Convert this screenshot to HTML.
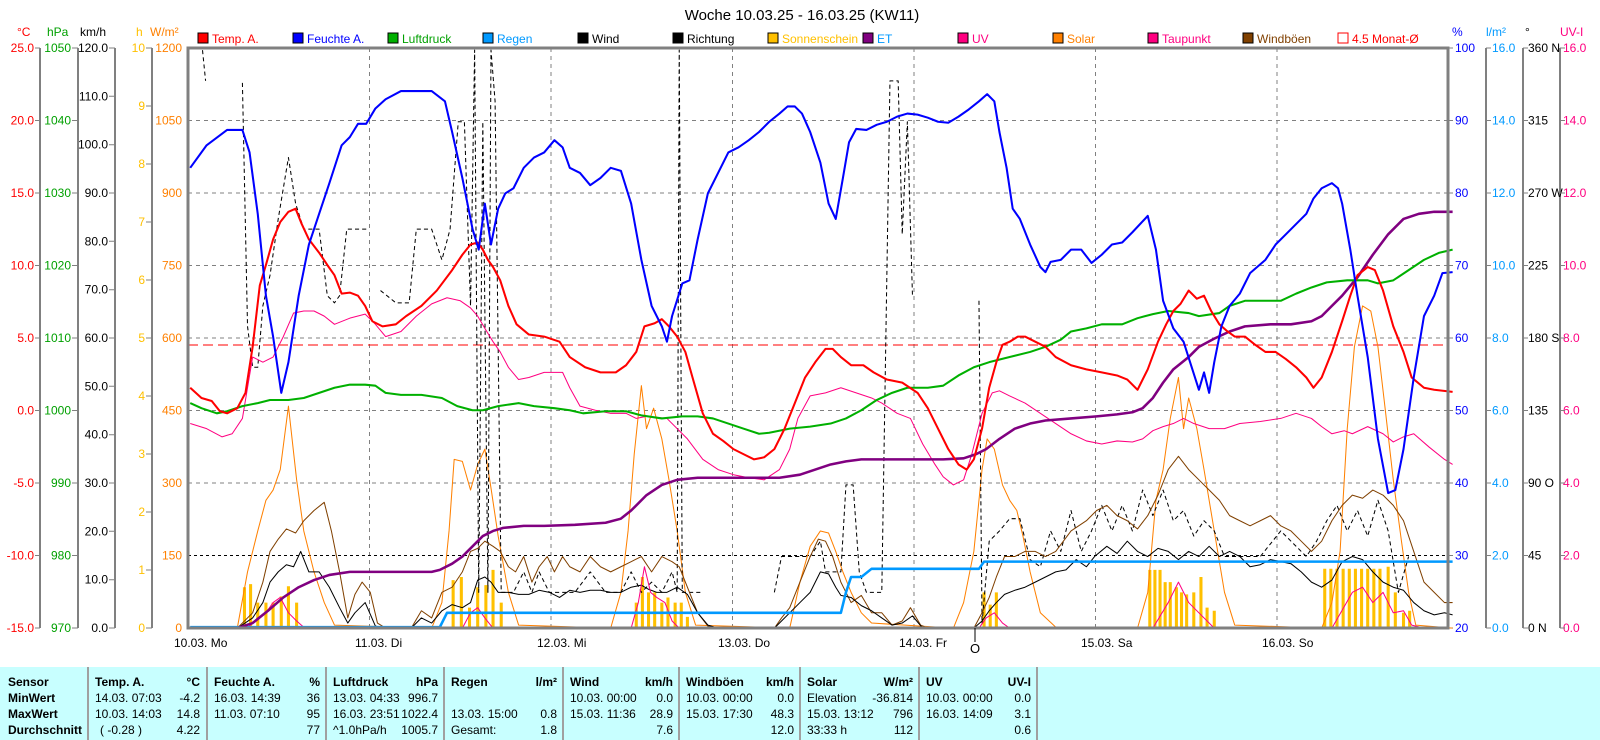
<!DOCTYPE html>
<html><head><meta charset="utf-8"><style>
html,body{margin:0;padding:0;background:#fff;}
svg{display:block;font-family:"Liberation Sans",sans-serif;}
</style></head><body>
<svg width="1600" height="740" viewBox="0 0 1600 740" xmlns="http://www.w3.org/2000/svg">
<rect width="1600" height="740" fill="#fff"/>
<text x="802" y="20" font-size="15" text-anchor="middle" fill="#000">Woche 10.03.25 - 16.03.25 (KW11)</text>
<g font-size="12">
<rect x="198" y="33" width="10" height="10" fill="#f00" stroke="#000"/><text x="212" y="43" fill="#f00">Temp. A.</text>
<rect x="293" y="33" width="10" height="10" fill="#00f" stroke="#000"/><text x="307" y="43" fill="#00f">Feuchte A.</text>
<rect x="388" y="33" width="10" height="10" fill="#00b000" stroke="#000"/><text x="402" y="43" fill="#00a000">Luftdruck</text>
<rect x="483" y="33" width="10" height="10" fill="#09f" stroke="#000"/><text x="497" y="43" fill="#09f">Regen</text>
<rect x="578" y="33" width="10" height="10" fill="#000" stroke="#000"/><text x="592" y="43" fill="#000">Wind</text>
<rect x="673" y="33" width="10" height="10" fill="#000" stroke="#000"/><text x="687" y="43" fill="#000">Richtung</text>
<rect x="768" y="33" width="10" height="10" fill="#ffc000" stroke="#000"/><text x="782" y="43" fill="#ffc000">Sonnenschein</text>
<rect x="863" y="33" width="10" height="10" fill="#800080" stroke="#000"/><text x="877" y="43" fill="#09f">ET</text>
<rect x="958" y="33" width="10" height="10" fill="#ff0080" stroke="#000"/><text x="972" y="43" fill="#ff0080">UV</text>
<rect x="1053" y="33" width="10" height="10" fill="#ff8000" stroke="#000"/><text x="1067" y="43" fill="#ff8000">Solar</text>
<rect x="1148" y="33" width="10" height="10" fill="#ff0080" stroke="#000"/><text x="1162" y="43" fill="#ff0080">Taupunkt</text>
<rect x="1243" y="33" width="10" height="10" fill="#804000" stroke="#000"/><text x="1257" y="43" fill="#804000">Windböen</text>
<rect x="1338" y="33" width="10" height="10" fill="#fff" stroke="#f00"/><text x="1352" y="43" fill="#f00">4.5 Monat-Ø</text>
</g>
<g font-size="12">
<text x="17" y="36" fill="#f00">°C</text>
<text x="47" y="36" fill="#00a000">hPa</text>
<text x="80" y="36" fill="#000">km/h</text>
<text x="136" y="36" fill="#ffc000">h</text>
<text x="150" y="36" fill="#ff8000">W/m²</text>
<text x="1452" y="36" fill="#00f">%</text>
<text x="1486" y="36" fill="#09f">l/m²</text>
<text x="1525" y="36" fill="#000">°</text>
<text x="1560" y="36" fill="#ff0080">UV-I</text>
</g>
<g stroke="#808080" stroke-width="1" stroke-dasharray="4,4">
<line x1="188" y1="120.5" x2="1448" y2="120.5"/><line x1="188" y1="193" x2="1448" y2="193"/>
<line x1="188" y1="265.5" x2="1448" y2="265.5"/><line x1="188" y1="338" x2="1448" y2="338"/>
<line x1="188" y1="410.5" x2="1448" y2="410.5"/><line x1="188" y1="483" x2="1448" y2="483"/>
<line x1="369.5" y1="48" x2="369.5" y2="628"/><line x1="551" y1="48" x2="551" y2="628"/>
<line x1="732.5" y1="48" x2="732.5" y2="628"/><line x1="914" y1="48" x2="914" y2="628"/>
<line x1="1095.5" y1="48" x2="1095.5" y2="628"/><line x1="1277" y1="48" x2="1277" y2="628"/>
</g>
<line x1="188" y1="555.5" x2="1448" y2="555.5" stroke="#000" stroke-dasharray="3,3"/>
<line x1="188" y1="345" x2="1448" y2="345" stroke="#f00" stroke-dasharray="10,5"/>
<g stroke="#808080" stroke-width="2">
<line x1="40" y1="48" x2="40" y2="628"/><line x1="78" y1="48" x2="78" y2="628"/>
<line x1="115" y1="48" x2="115" y2="628"/><line x1="152" y1="48" x2="152" y2="628"/>
<line x1="1486" y1="48" x2="1486" y2="628"/><line x1="1523" y1="48" x2="1523" y2="628"/><line x1="1560" y1="48" x2="1560" y2="628"/>
</g>
<g font-size="12" text-anchor="end">
<g fill="#f00"><text x="34" y="52">25.0</text><text x="34" y="124.5">20.0</text><text x="34" y="197">15.0</text><text x="34" y="269.5">10.0</text><text x="34" y="342">5.0</text><text x="34" y="414.5">0.0</text><text x="34" y="487">-5.0</text><text x="34" y="559.5">-10.0</text><text x="34" y="632">-15.0</text></g>
<g fill="#00a000"><text x="71" y="52">1050</text><text x="71" y="124.5">1040</text><text x="71" y="197">1030</text><text x="71" y="269.5">1020</text><text x="71" y="342">1010</text><text x="71" y="414.5">1000</text><text x="71" y="487">990</text><text x="71" y="559.5">980</text><text x="71" y="632">970</text></g>
<g fill="#000"><text x="108" y="52">120.0</text><text x="108" y="100.3">110.0</text><text x="108" y="148.7">100.0</text><text x="108" y="197">90.0</text><text x="108" y="245.3">80.0</text><text x="108" y="293.7">70.0</text><text x="108" y="342">60.0</text><text x="108" y="390.3">50.0</text><text x="108" y="438.7">40.0</text><text x="108" y="487">30.0</text><text x="108" y="535.3">20.0</text><text x="108" y="583.7">10.0</text><text x="108" y="632">0.0</text></g>
<g fill="#ffc000"><text x="145" y="52">10</text><text x="145" y="110">9</text><text x="145" y="168">8</text><text x="145" y="226">7</text><text x="145" y="284">6</text><text x="145" y="342">5</text><text x="145" y="400">4</text><text x="145" y="458">3</text><text x="145" y="516">2</text><text x="145" y="574">1</text><text x="145" y="632">0</text></g>
<g fill="#ff8000"><text x="182" y="52">1200</text><text x="182" y="124.5">1050</text><text x="182" y="197">900</text><text x="182" y="269.5">750</text><text x="182" y="342">600</text><text x="182" y="414.5">450</text><text x="182" y="487">300</text><text x="182" y="559.5">150</text><text x="182" y="632">0</text></g>
</g>
<g font-size="12">
<g fill="#00f"><text x="1455" y="52">100</text><text x="1455" y="124.5">90</text><text x="1455" y="197">80</text><text x="1455" y="269.5">70</text><text x="1455" y="342">60</text><text x="1455" y="414.5">50</text><text x="1455" y="487">40</text><text x="1455" y="559.5">30</text><text x="1455" y="632">20</text></g>
<g fill="#09f"><text x="1492" y="52">16.0</text><text x="1492" y="124.5">14.0</text><text x="1492" y="197">12.0</text><text x="1492" y="269.5">10.0</text><text x="1492" y="342">8.0</text><text x="1492" y="414.5">6.0</text><text x="1492" y="487">4.0</text><text x="1492" y="559.5">2.0</text><text x="1492" y="632">0.0</text></g>
<g fill="#000"><text x="1528" y="52">360 N</text><text x="1528" y="124.5">315</text><text x="1528" y="197">270 W</text><text x="1528" y="269.5">225</text><text x="1528" y="342">180 S</text><text x="1528" y="414.5">135</text><text x="1528" y="487">90  O</text><text x="1528" y="559.5">45</text><text x="1528" y="632">0   N</text></g>
<g fill="#ff0080"><text x="1563" y="52">16.0</text><text x="1563" y="124.5">14.0</text><text x="1563" y="197">12.0</text><text x="1563" y="269.5">10.0</text><text x="1563" y="342">8.0</text><text x="1563" y="414.5">6.0</text><text x="1563" y="487">4.0</text><text x="1563" y="559.5">2.0</text><text x="1563" y="632">0.0</text></g>
</g>
<g stroke="#808080" stroke-width="1">
<path d="M35 48H40M35 120.5H40M35 193H40M35 265.5H40M35 338H40M35 410.5H40M35 483H40M35 555.5H40M35 628H40"/>
<path d="M72 48H78M72 120.5H78M72 193H78M72 265.5H78M72 338H78M72 410.5H78M72 483H78M72 555.5H78M72 628H78"/>
<path d="M109 48H115M109 96.3H115M109 144.7H115M109 193H115M109 241.3H115M109 289.7H115M109 338H115M109 386.3H115M109 434.7H115M109 483H115M109 531.3H115M109 579.7H115M109 628H115"/>
<path d="M146 48H152M146 106H152M146 164H152M146 222H152M146 280H152M146 338H152M146 396H152M146 454H152M146 512H152M146 570H152M146 628H152"/>
<path d="M1448 48H1453M1448 120.5H1453M1448 193H1453M1448 265.5H1453M1448 338H1453M1448 410.5H1453M1448 483H1453M1448 555.5H1453M1448 628H1453"/>
<path d="M1486 48H1491M1486 120.5H1491M1486 193H1491M1486 265.5H1491M1486 338H1491M1486 410.5H1491M1486 483H1491M1486 555.5H1491M1486 628H1491"/>
<path d="M1523 48H1528M1523 120.5H1528M1523 193H1528M1523 265.5H1528M1523 338H1528M1523 410.5H1528M1523 483H1528M1523 555.5H1528M1523 628H1528"/>
<path d="M1560 48H1565M1560 120.5H1565M1560 193H1565M1560 265.5H1565M1560 338H1565M1560 410.5H1565M1560 483H1565M1560 555.5H1565M1560 628H1565"/>
</g>
<g transform="translate(2,-1) scale(1.023)" fill="none" stroke-linejoin="round">
<g stroke="#ffc000" stroke-width="3">
<path d="M237 615V575M243 615V572M250 615V590M258 615V590M265 615V590M273 615V584M280 615V574M288 615V590M441 615V568M449 615V565M457 615V595M465 615V575M473 615V573M480 615V558M488 615V590M620 615V590M626 615V565M632 615V580M638 615V580M645 615V590M651 615V585M658 615V590M664 615V590M670 615V604M960 615V580M966 615V592M972 615V580M1122 615V558M1127 615V558M1132 615V558M1137 615V570M1142 615V570M1148 615V575M1153 615V580M1158 615V582M1165 615V580M1172 615V565M1178 615V595M1185 615V598M1293 615V557M1299 615V557M1305 615V557M1311 615V557M1317 615V557M1323 615V557M1329 615V557M1335 615V557M1341 615V557M1347 615V557M1355 615V555M1362 615V580M1370 615V600M1376 615V598"/>
</g>
<polyline stroke="#ff8000" stroke-width="1" points="184,615 230,615 240,560 250,520 258,490 265,480 272,460 280,398 288,470 295,520 305,560 315,590 325,612 420,615 430,590 437,520 442,450 450,452 458,480 465,455 472,440 478,478 485,525 495,580 505,612 595,615 605,580 612,520 618,445 625,378 630,420 637,400 645,430 652,470 660,520 668,580 678,612 770,615 780,570 790,535 800,520 808,522 815,540 822,560 830,580 840,600 850,610 930,615 940,590 950,540 958,460 963,430 970,440 978,475 985,490 992,500 998,525 1005,560 1015,600 1030,614 1110,615 1120,580 1128,490 1135,460 1142,410 1150,370 1155,420 1160,390 1168,420 1175,460 1185,520 1195,580 1205,612 1290,615 1300,590 1308,540 1315,420 1322,340 1330,300 1338,305 1345,340 1352,400 1360,470 1368,530 1375,580 1382,612 1418,615"/>
<g stroke="#000" stroke-width="1" stroke-dasharray="4,3">
<polyline points="196,50 199,80"/>
<polyline points="235,82 240,320 245,360 250,360 255,300 262,270 270,215 280,155 287,200 295,225 302,225 310,225 318,290 325,297 330,290 337,225 345,225 352,225 358,225"/>
<polyline points="370,285 385,297 398,297 405,225 412,225 420,225 430,255 438,225 446,120 452,120 458,300 462,50 466,580 470,120 475,580 478,50 482,100 488,580 492,580 500,580 510,560 518,580 525,560 535,580 545,580 560,580 575,560 590,580 605,580 615,560 625,580 635,570 645,580 655,560 660,580 662,50 665,580 685,580"/>
<polyline points="755,580 762,545 790,545 800,530 805,560 820,560 825,475 832,475 838,560 845,580 860,580 868,80 876,80 880,230 885,120 890,290"/>
<polyline points="955,295 958,610 965,530 975,520 985,508 995,508 1005,548 1015,555 1025,520 1035,540 1045,500 1055,540 1065,520 1075,495 1085,520 1095,495 1105,520 1115,480 1125,505 1135,480 1145,510 1155,500 1165,525 1175,510 1185,520 1195,545 1205,545 1215,545 1230,545 1250,520 1260,530 1275,545 1285,530 1295,510 1305,495 1315,520 1325,500 1335,525 1345,490 1355,520 1365,580 1375,545"/>
</g>
<polyline stroke="#804000" stroke-width="1" points="184,615 230,615 245,600 255,570 262,540 270,528 278,518 287,522 295,510 305,500 315,492 322,520 330,560 338,605 345,582 352,570 360,580 367,610 375,615 400,615 410,598 420,605 430,580 440,575 450,560 458,540 465,537 472,530 480,535 487,540 495,555 502,560 510,545 518,570 525,555 533,545 540,560 548,545 555,555 565,560 575,545 585,555 595,560 605,555 615,550 625,545 635,560 645,545 655,550 662,555 670,575 680,600 690,613 700,615 755,615 762,605 770,595 780,570 790,545 798,528 805,530 812,545 820,570 830,590 840,583 850,600 860,600 870,612 880,608 888,595 898,612 905,615 950,615 958,600 965,585 972,565 980,545 990,545 1000,540 1010,540 1020,545 1030,540 1045,520 1060,510 1070,500 1080,495 1090,505 1100,510 1110,518 1120,505 1130,485 1140,460 1150,447 1160,460 1170,470 1180,480 1190,490 1200,505 1210,510 1220,515 1230,510 1240,505 1250,515 1260,520 1270,530 1280,540 1290,530 1300,510 1310,495 1320,485 1330,488 1340,480 1350,485 1360,495 1370,510 1380,540 1390,570 1400,580 1410,590 1418,590"/>
<polyline stroke="#000" stroke-width="1" points="184,615 230,615 245,605 255,590 262,570 270,560 278,553 285,555 292,540 300,560 310,560 320,575 330,595 338,610 345,600 355,590 365,613 375,615 400,615 410,605 420,610 430,598 440,592 450,595 458,590 465,568 472,565 478,570 485,580 495,580 505,582 515,582 525,578 535,580 545,585 555,578 565,580 575,578 585,578 595,580 605,580 615,575 625,573 632,577 640,580 650,580 660,575 670,582 680,600 690,612 700,615 755,615 762,608 770,600 780,590 790,580 800,560 808,562 815,575 820,583 830,585 840,593 850,598 860,605 870,612 880,610 890,603 900,615 950,615 958,608 965,598 972,590 980,582 990,578 1000,575 1010,570 1020,565 1030,560 1040,558 1050,548 1060,555 1068,545 1080,535 1090,542 1100,530 1110,540 1120,545 1130,537 1140,540 1150,548 1160,540 1170,545 1180,535 1190,545 1200,540 1210,545 1220,555 1230,553 1240,548 1250,550 1260,552 1270,560 1280,570 1290,575 1300,568 1310,550 1320,545 1330,548 1340,560 1350,570 1360,575 1370,578 1380,590 1390,598 1400,602 1410,600 1418,602"/>
<polyline stroke="#ff0080" stroke-width="1" points="184,415 200,420 215,428 225,425 235,410 240,380 245,350 255,355 265,350 275,330 285,307 295,305 305,305 315,310 325,318 340,312 355,308 365,318 375,330 390,325 405,310 420,298 435,292 448,295 458,302 465,310 472,322 480,335 487,345 495,360 505,372 515,370 530,365 548,365 555,380 565,398 580,402 595,405 610,405 620,410 630,408 650,410 670,430 685,450 700,460 715,465 730,468 745,470 760,460 770,440 778,410 790,388 805,385 820,380 835,385 850,390 860,395 875,405 888,410 900,435 912,455 920,467 930,475 940,470 948,445 958,405 968,385 975,383 985,388 1000,395 1015,405 1030,415 1045,425 1060,432 1075,435 1090,432 1105,433 1115,430 1125,422 1135,418 1145,415 1155,410 1165,415 1180,420 1195,420 1210,415 1230,413 1250,410 1265,405 1280,410 1290,418 1300,425 1312,422 1320,425 1335,418 1350,425 1360,433 1370,428 1380,425 1395,438 1410,450 1418,455"/>
<polyline stroke="#ff0080" stroke-width="1" points="240,615 250,605 258,600 265,590 272,585 280,600 288,608 296,615 450,615 458,600 465,595 472,605 480,615 615,615 622,590 628,555 634,580 640,585 648,590 655,608 662,615 955,615 962,605 970,600 978,610 985,615 1125,615 1140,590 1150,570 1160,590 1170,600 1185,615 1300,615 1320,580 1330,575 1340,590 1350,580 1360,600 1370,598 1378,612 1390,615"/>
<polyline stroke="#09f" stroke-width="2.5" points="184,614 428,614 435,600 820,600 825,580 830,565 840,565 850,557 955,557 960,550 1418,550"/>
<polyline stroke="#800080" stroke-width="2.5" points="184,615 230,615 245,610 260,598 275,585 290,575 305,568 320,563 340,560 360,560 420,560 428,558 440,552 450,545 460,535 470,525 480,520 490,517 510,515 530,515 560,514 590,512 605,508 615,500 630,485 645,475 660,470 680,468 740,468 760,468 780,465 795,460 810,455 825,452 840,450 880,450 920,450 940,449 952,445 962,440 975,430 990,420 1005,415 1020,412 1045,410 1070,408 1090,406 1105,404 1115,400 1125,390 1135,375 1145,362 1160,350 1170,340 1185,332 1200,325 1215,320 1240,318 1260,318 1280,315 1290,310 1300,300 1310,290 1325,272 1340,250 1355,230 1370,215 1385,210 1400,208 1418,208"/>
<polyline stroke="#00b000" stroke-width="2" points="184,395 195,400 210,405 220,403 235,398 250,395 262,392 280,392 295,390 310,385 325,380 340,377 355,377 365,378 375,385 390,387 410,387 430,390 445,398 460,402 470,402 485,398 505,395 520,398 540,400 555,402 568,405 590,403 610,403 625,407 645,410 665,408 680,408 695,410 710,415 725,420 740,425 750,424 770,420 790,418 810,415 825,410 840,402 855,392 870,385 885,380 905,380 920,378 935,368 950,360 965,355 985,350 1005,345 1020,340 1035,333 1045,325 1060,322 1075,318 1095,318 1110,312 1125,308 1140,305 1160,307 1170,310 1190,307 1200,300 1215,295 1230,295 1250,295 1265,288 1280,282 1295,277 1315,275 1335,275 1345,278 1360,275 1375,265 1390,255 1405,248 1418,245"/>
<polyline stroke="#f00" stroke-width="2" points="184,380 195,390 205,393 213,403 220,405 230,400 238,385 245,340 252,280 258,260 265,235 272,218 280,208 287,205 293,220 300,235 310,248 318,260 325,270 332,288 340,287 348,290 355,300 362,315 372,320 385,318 395,310 410,300 425,285 440,265 450,250 458,240 465,238 470,245 475,255 480,262 487,275 495,300 503,318 515,328 530,330 545,335 555,350 570,360 585,365 600,365 610,358 620,345 628,320 638,317 645,313 652,320 660,330 668,345 675,370 685,405 695,425 705,432 715,440 725,445 735,450 745,448 755,440 765,420 775,395 785,370 795,355 805,342 812,342 820,350 830,358 842,358 852,365 865,372 880,375 895,385 905,400 915,420 925,440 935,455 943,460 950,450 958,420 965,380 972,355 978,338 985,335 993,330 1000,330 1010,335 1020,340 1030,350 1045,358 1060,362 1075,365 1090,368 1100,372 1110,382 1120,362 1130,335 1138,318 1145,305 1152,298 1160,285 1168,293 1175,290 1182,305 1190,318 1198,325 1205,330 1215,330 1225,338 1235,345 1245,345 1255,352 1265,360 1275,370 1282,380 1290,370 1300,345 1310,315 1318,290 1325,270 1335,262 1342,265 1350,285 1360,320 1370,345 1378,370 1390,380 1400,382 1418,384"/>
<polyline stroke="#00f" stroke-width="2" points="184,165 200,143 220,128 235,128 242,150 250,210 258,290 265,330 273,385 280,355 290,290 300,240 310,210 320,180 332,143 340,135 348,122 356,122 365,107 375,98 390,90 420,90 433,100 440,130 450,175 460,225 466,245 472,200 478,240 485,205 492,190 500,185 510,165 520,155 530,150 540,138 548,145 555,165 565,170 575,182 585,175 595,165 605,168 615,200 625,255 635,300 645,320 650,335 655,310 665,278 672,275 680,235 690,190 700,170 710,150 720,145 730,138 740,130 750,120 760,112 768,105 775,105 782,112 790,130 800,160 808,200 815,215 822,175 828,140 835,127 845,128 855,123 865,120 875,115 885,112 895,113 905,116 915,120 925,121 935,115 945,108 955,100 963,93 970,100 975,130 982,165 988,205 995,215 1005,240 1015,262 1020,267 1025,257 1035,255 1045,245 1055,245 1065,258 1075,250 1085,240 1095,238 1105,228 1120,212 1128,245 1135,295 1145,322 1155,335 1162,357 1170,382 1175,365 1180,385 1185,355 1192,320 1200,300 1210,288 1220,268 1235,255 1245,240 1255,230 1265,220 1275,210 1282,195 1290,185 1300,180 1306,185 1310,200 1318,245 1325,290 1335,350 1345,430 1355,483 1362,480 1370,440 1380,370 1390,310 1400,290 1408,268 1418,267"/>
</g>
<rect x="188" y="48" width="1260" height="580" fill="none" stroke="#808080" stroke-width="3"/>
<g font-size="12" fill="#000">
<text x="174" y="647">10.03.  Mo</text><text x="355" y="647">11.03.  Di</text><text x="537" y="647">12.03.  Mi</text><text x="718" y="647">13.03.  Do</text><text x="899" y="647">14.03.  Fr</text><text x="1081" y="647">15.03.  Sa</text><text x="1262" y="647">16.03.  So</text>
</g>
<line x1="975" y1="628" x2="975" y2="642" stroke="#000"/>
<text x="970" y="653" font-size="13" fill="#000">O</text>
<rect x="0" y="667" width="1600" height="73" fill="#c8ffff"/>
<g stroke="#a0a0a0" stroke-width="2">
<line x1="88" y1="667" x2="88" y2="740"/><line x1="207" y1="667" x2="207" y2="740"/><line x1="326" y1="667" x2="326" y2="740"/><line x1="444" y1="667" x2="444" y2="740"/><line x1="563" y1="667" x2="563" y2="740"/><line x1="679" y1="667" x2="679" y2="740"/><line x1="800" y1="667" x2="800" y2="740"/><line x1="919" y1="667" x2="919" y2="740"/><line x1="1037" y1="667" x2="1037" y2="740"/>
</g>
<g font-size="12" fill="#000">
<g font-weight="bold"><text x="8" y="686">Sensor</text><text x="8" y="702">MinWert</text><text x="8" y="718">MaxWert</text><text x="8" y="734">Durchschnitt</text>
<text x="95" y="686">Temp. A.</text><text x="214" y="686">Feuchte A.</text><text x="333" y="686">Luftdruck</text><text x="451" y="686">Regen</text><text x="570" y="686">Wind</text><text x="686" y="686">Windböen</text><text x="807" y="686">Solar</text><text x="926" y="686">UV</text>
<g text-anchor="end"><text x="200" y="686">°C</text><text x="320" y="686">%</text><text x="438" y="686">hPa</text><text x="557" y="686">l/m²</text><text x="673" y="686">km/h</text><text x="794" y="686">km/h</text><text x="913" y="686">W/m²</text><text x="1031" y="686">UV-I</text></g></g>
<text x="95" y="702">14.03.  07:03</text><text x="95" y="718">10.03.  14:03</text><text x="100" y="734">( -0.28 )</text>
<text x="214" y="702">16.03.  14:39</text><text x="214" y="718">11.03.  07:10</text>
<text x="333" y="702">13.03.  04:33</text><text x="333" y="718">16.03.  23:51</text><text x="333" y="734">^1.0hPa/h</text>
<text x="451" y="718">13.03.  15:00</text><text x="451" y="734">Gesamt:</text>
<text x="570" y="702">10.03.  00:00</text><text x="570" y="718">15.03.  11:36</text>
<text x="686" y="702">10.03.  00:00</text><text x="686" y="718">15.03.  17:30</text>
<text x="807" y="702">Elevation</text><text x="807" y="718">15.03.  13:12</text><text x="807" y="734">33:33 h</text>
<text x="926" y="702">10.03.  00:00</text><text x="926" y="718">16.03.  14:09</text>
<g text-anchor="end">
<text x="200" y="702">-4.2</text><text x="200" y="718">14.8</text><text x="200" y="734">4.22</text>
<text x="320" y="702">36</text><text x="320" y="718">95</text><text x="320" y="734">77</text>
<text x="438" y="702">996.7</text><text x="438" y="718">1022.4</text><text x="438" y="734">1005.7</text>
<text x="557" y="718">0.8</text><text x="557" y="734">1.8</text>
<text x="673" y="702">0.0</text><text x="673" y="718">28.9</text><text x="673" y="734">7.6</text>
<text x="794" y="702">0.0</text><text x="794" y="718">48.3</text><text x="794" y="734">12.0</text>
<text x="913" y="702">-36.814</text><text x="913" y="718">796</text><text x="913" y="734">112</text>
<text x="1031" y="702">0.0</text><text x="1031" y="718">3.1</text><text x="1031" y="734">0.6</text>
</g>
</g>
</svg>
</body></html>
